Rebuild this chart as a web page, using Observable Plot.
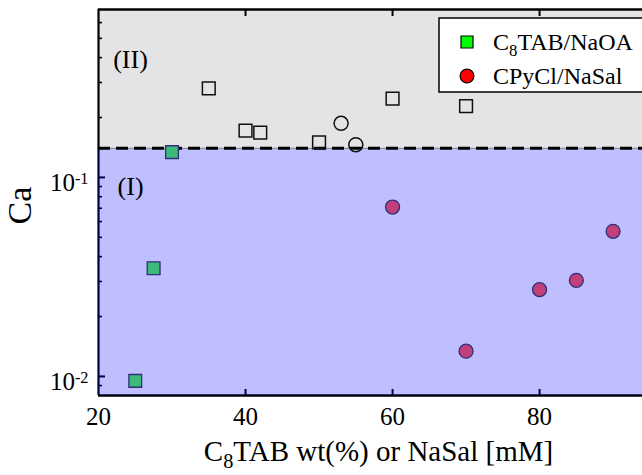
<!DOCTYPE html>
<html><head><meta charset="utf-8">
<script src="https://cdn.jsdelivr.net/npm/d3@7"></script>
<script src="https://cdn.jsdelivr.net/npm/@observablehq/plot@0.6"></script>
<style>body{margin:0;background:#fff}</style>
</head><body><div id="chart"></div>
<script>
// ---- data ----
const c8X = [25, 27.5, 30];
const c8Ca = [0.0095, 0.035, 0.134];
const c8OpenX = [35, 40, 42, 50, 60, 70];
const c8OpenCa = [0.28, 0.172, 0.168, 0.150, 0.249, 0.228];
const cpyX = [60, 70, 80, 85, 90];
const cpyCa = [0.071, 0.0134, 0.0273, 0.0304, 0.0536];
const cpyOpenX = [53, 55];
const cpyOpenCa = [0.187, 0.146];
const threshold = 0.14;
const xDomain = [20, 94];
const yDomain = [0.00802, 0.698];
const xTicks = [20, 40, 60, 80];
const xInnerTicks = [40, 60, 80];
const yMajor = [0.01, 0.1];
const yMinor = [0.009, 0.02, 0.03, 0.04, 0.05, 0.06, 0.07, 0.08, 0.09, 0.2, 0.3, 0.4, 0.5, 0.6];
const regionNames = ["(II)", "(I)"];
const regionX = [22.0, 22.6];
const regionCa = [0.39, 0.090];
const legendNames = ["C_8TAB/NaOA", "CPyCl/NaSal"];
const legendColors = ["#00ff00", "#ff0000"];
const legendSymbols = ["square", "circle"];
const xLabel = "C_8TAB wt(%) or NaSal [mM]";
const yLabel = "Ca";

const pts = (xs, ys) => xs.map((x, i) => ({x, y: ys[i]}));
const FONT = "Liberation Serif, Times New Roman, serif";
const navy = "#2e2e7a";

const plot = Plot.plot({
  width: 642, height: 475,
  marginLeft: 98, marginRight: 0, marginTop: 9, marginBottom: 80,
  style: {fontFamily: FONT, background: "#fff", color: "#000"},
  x: {domain: xDomain},
  y: {type: "log", domain: yDomain},
  marks: [
    Plot.rect([{}], {x1: xDomain[0], x2: xDomain[1], y1: threshold, y2: yDomain[1], fill: "#e4e4e6"}),
    Plot.axisY({ticks: yMajor, tickSize: -7, tickFormat: () => "", strokeWidth: 2, label: null}),
    Plot.axisY({ticks: yMinor, tickSize: -4, tickFormat: () => "", strokeWidth: 1.6, label: null}),
    Plot.axisX({ticks: xInnerTicks, tickSize: -6, tickFormat: () => "", strokeWidth: 2, label: null}),
    Plot.axisX({anchor: "top", ticks: xInnerTicks, tickSize: -6, tickFormat: () => "", strokeWidth: 2, label: null}),
    Plot.ruleX([xDomain[0]], {y1: yDomain[0], y2: yDomain[1], strokeWidth: 2.2}),
    Plot.ruleY([yDomain[0], yDomain[1]], {strokeWidth: 2.4}),
    Plot.rect([{}], {x1: xDomain[0], x2: xDomain[1], y1: yDomain[0], y2: threshold, fill: "#0000ff", fillOpacity: 0.25}),
    Plot.ruleY([threshold], {stroke: "#888", strokeWidth: 1}),
    Plot.ruleY([threshold], {stroke: "#000", strokeWidth: 3, strokeDasharray: "12,6"}),
    Plot.dot(pts(c8OpenX, c8OpenCa), {x: "x", y: "y", symbol: "square", r: 7.2, stroke: "#111", strokeWidth: 1.5, fill: "none"}),
    Plot.dot(pts(cpyOpenX, cpyOpenCa), {x: "x", y: "y", symbol: "circle", r: 7, stroke: "#111", strokeWidth: 1.5, fill: "none"}),
    Plot.dot(pts(c8X, c8Ca), {x: "x", y: "y", symbol: "square", r: 7.2, fill: "#3dba7a", stroke: navy, strokeWidth: 1.3}),
    Plot.dot(pts(cpyX, cpyCa), {x: "x", y: "y", symbol: "circle", r: 7, fill: "#c1407a", stroke: navy, strokeWidth: 1.3}),
    Plot.axisX({ticks: xTicks, tickSize: 0, tickPadding: 12, fontSize: 25, label: null}),
    Plot.axisY({ticks: yMajor, tickSize: 0, tickPadding: 10, fontSize: 25, label: null, dy: 6,
      tickFormat: d => "10^" + Math.round(Math.log10(d))}),
    Plot.text(regionNames, {x: (d, i) => regionX[i], y: (d, i) => regionCa[i], text: d => d, textAnchor: "start", fontSize: 26}),
    Plot.text([yLabel], {frameAnchor: "left", dx: -78, dy: 22, rotate: -90, fontSize: 34, text: d => d}),
    Plot.text([xLabel], {frameAnchor: "bottom", dx: 8, dy: 56, fontSize: 29, text: d => d, lineAnchor: "middle"})
  ]
});

const svg = d3.select(plot);
svg.selectAll('g[aria-label="y-axis tick label"] text').each(function () {
  const t = d3.select(this);
  const s = t.text();
  if (!s.includes("^")) return;
  const [base, exp] = s.split("^");
  t.text(base);
  t.append("tspan").attr("dy", "-0.45em").attr("font-size", "0.65em").text(exp);
});
function subscriptify(t) {
  const s = t.text();
  if (!s.includes("_")) return;
  const m = s.match(/^(.*?)_(\d)(.*)$/);
  t.text(null);
  t.append("tspan").text(m[1]);
  t.append("tspan").attr("dy", "0.35em").attr("font-size", "0.7em").text(m[2]);
  t.append("tspan").attr("dy", "-0.25em").text(m[3]);
}
svg.selectAll("text").each(function () {
  const t = d3.select(this);
  if (t.text() === xLabel) subscriptify(t);
});

const lg = svg.append("g").attr("font-family", FONT).attr("text-anchor", "start");
lg.append("rect").attr("x", 439).attr("y", 18).attr("width", 240).attr("height", 74)
  .attr("fill", "#fff").attr("stroke", "#000").attr("stroke-width", 1.5);
legendNames.forEach((name, i) => {
  const cy = 42 + i * 34;
  lg.append("path").attr("transform", `translate(467,${cy})`)
    .attr("d", d3.symbol(legendSymbols[i] === "square" ? d3.symbolSquare : d3.symbolCircle, legendSymbols[i] === "square" ? 144 : 150)())
    .attr("fill", legendColors[i]).attr("stroke", "#000").attr("stroke-width", 1.2);
  const t = lg.append("text").attr("x", 493).attr("y", cy + 8).attr("font-size", 24).attr("text-anchor", "start").text(name);
  subscriptify(t);
});

document.getElementById("chart").appendChild(plot);
</script>
</body></html>
